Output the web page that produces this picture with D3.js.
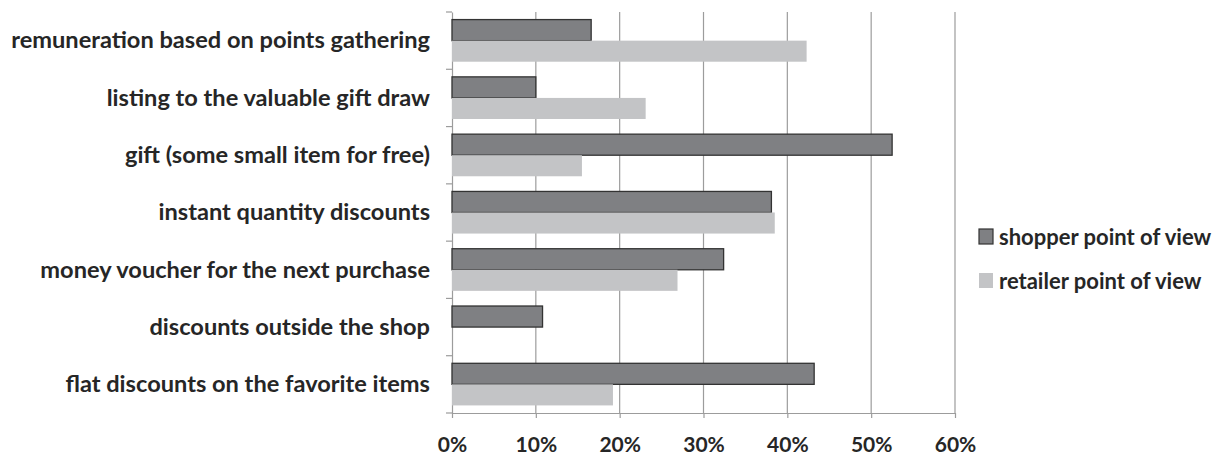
<!DOCTYPE html>
<html>
<head>
<meta charset="utf-8">
<script src="https://cdn.jsdelivr.net/npm/d3@7"></script>
<style>
  body { margin: 0; background: #fff; }
  svg { display: block; font-family: Lato, "Open Sans", sans-serif; }
</style>
</head>
<body>
<svg id="chart" width="1217" height="459"></svg>
<script>
const categories = [
    'remuneration based on points gathering',
    'listing to the valuable gift draw',
    'gift (some small item for free)',
    'instant quantity discounts',
    'money voucher for the next purchase',
    'discounts outside the shop',
    'flat discounts on the favorite items'
]
const series = ['shopper point of view', 'retailer point of view']
const shopper = [16.6, 10.0, 52.5, 38.1, 32.4, 10.8, 43.2]
const retailer = [42.3, 23.1, 15.5, 38.5, 26.9, 0, 19.2]
const xTicks = [0, 10, 20, 30, 40, 50, 60]

const svg = d3.select('#chart')
const plotLeft = 452, plotRight = 955, plotTop = 12, plotBottom = 413
const textColor = '#262626'
const gridColor = '#9c9c9c'
const fontFamily = 'Lato, "Open Sans", sans-serif'

const x = d3.scaleLinear().domain([0, 60]).range([plotLeft, plotRight])
const y = d3.scaleBand().domain(categories).range([plotTop, plotBottom]).paddingInner(0).paddingOuter(0)
const sub = d3.scaleBand().domain(series).range([0, y.bandwidth()]).paddingOuter(0.36).paddingInner(0)
                                 //dark grey  //light grey
const fill = d3.scaleOrdinal(series, ['#7f8083', '#c3c4c6'])

// vertical gridlines
svg.append('g').selectAll('line').data(xTicks.slice(1)).enter().append('line')
    .attr('x1', d => x(d)).attr('x2', d => x(d))
    .attr('y1', plotTop).attr('y2', plotBottom)
    .attr('stroke', gridColor).attr('stroke-width', 1.2)

// x axis
const xAxis = svg.append('g').attr('transform', `translate(0, ${plotBottom})`)
    .call(d3.axisBottom(x).tickValues(xTicks).tickFormat(d => d + '%').tickSize(5).tickSizeOuter(0))
xAxis.attr('font-family', fontFamily)
xAxis.select('.domain').attr('stroke', gridColor).attr('stroke-width', 1.2)
xAxis.selectAll('.tick line').attr('stroke', gridColor).attr('stroke-width', 1.2)
xAxis.selectAll('.tick text')
    .attr('y', 24)
    .attr('fill', textColor)
    .style('font-size', '21px')
    .style('font-weight', '700')

// y axis
const yAxis = svg.append('g').attr('transform', `translate(${plotLeft}, 0)`)
    .call(d3.axisLeft(y).tickSize(0).tickPadding(22))
yAxis.attr('font-family', fontFamily)
yAxis.select('.domain').attr('stroke', gridColor).attr('stroke-width', 1.2)
yAxis.selectAll('.tick text')
    .attr('dy', '0.33em')
    .attr('fill', textColor)
    .style('font-size', '23.6px')
    .style('font-weight', '700')

// category separator ticks
svg.append('g').selectAll('line').data(d3.range(categories.length + 1)).enter().append('line')
    .attr('x1', plotLeft - 6).attr('x2', plotLeft)
    .attr('y1', i => plotTop + i * y.step()).attr('y2', i => plotTop + i * y.step())
    .attr('stroke', gridColor).attr('stroke-width', 1.2)

// bars
const rows = categories.map((c, i) => ({name: c, values: [shopper[i], retailer[i]]}))
const groups = svg.append('g').selectAll('g').data(rows).enter().append('g')
    .attr('transform', d => `translate(0, ${y(d.name)})`)

groups.selectAll('rect').data(d => d.values.map((v, j) => ({key: series[j], value: v})))
    .enter().append('rect')
    .filter(d => d.value > 0)
    .attr('x', x(0))
    .attr('y', d => sub(d.key))
    .attr('width', d => x(d.value) - x(0))
    .attr('height', sub.bandwidth())
    .attr('fill', d => fill(d.key))
    .attr('stroke', d => d.key === series[0] ? '#333' : 'none')
    .attr('stroke-width', 1.3)

// legend
const legend = svg.append('g').attr('transform', 'translate(972, 210)')
legend.append('rect').attr('width', 245).attr('height', 96).attr('fill', '#fff')
const items = legend.selectAll('.item').data(series).enter().append('g')
    .attr('class', 'item')
    .attr('transform', (d, i) => `translate(7, ${27 + i * 44})`)
items.append('rect')
    .attr('y', -8).attr('width', 14).attr('height', 15)
    .attr('fill', d => fill(d))
    .attr('stroke', d => d === series[0] ? '#333' : 'none')
    .attr('stroke-width', 1.2)
items.append('text')
    .attr('x', 20).attr('dy', '0.35em')
    .attr('fill', textColor)
    .style('font-size', '22px')
    .style('font-weight', '700')
    .text(d => d)
</script>
</body>
</html>
